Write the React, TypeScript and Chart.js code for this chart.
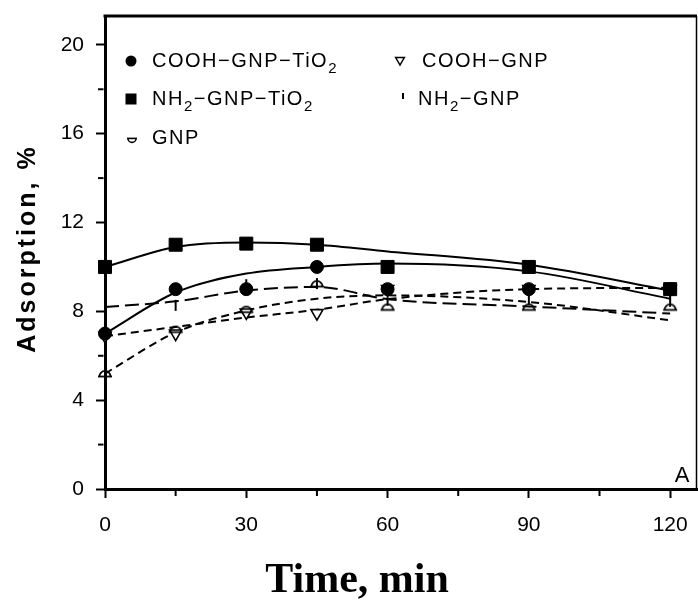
import React, { useEffect, useRef } from "react";
import { Chart, registerables } from "chart.js";

Chart.register(...registerables);

// ---------- data ----------
const times = [0, 15, 30, 45, 60, 90, 120];
const xTickValues = [0, 30, 60, 90, 120];
const xMinorTicks = [15, 45, 75, 105];
const yTickValues = [0, 4, 8, 12, 16, 20];
const yMinorTicks = [2, 6, 10, 14, 18];

// measured points
const coohGnpTio2 = [7.0, 9.0, 9.0, 10.0, 9.0, 9.0, 9.0];
const nh2GnpTio2 = [10.0, 11.0, 11.05, 11.0, 10.0, 10.0, 9.0];
const coohGnp = [6.9, 7.0, 7.95, 7.92, 9.0, 9.0, 9.0];
const nh2Gnp = [8.25, 8.27, 9.2, 9.25, 8.5, 8.55, 8.45];
const gnp = [5.2, 7.2, 8.1, 9.25, 8.2, 8.2, 8.2];

// fitted curves
const fitCoohGnpTio2 = [7.0, 8.85, 9.7, 10.0, 10.15, 9.8, 8.57];
const fitNh2GnpTio2 = [10.0, 10.9, 11.1, 11.0, 10.7, 10.1, 8.94];
const fitCoohGnp = [6.88, 7.3, 7.72, 8.07, 8.55, 9.0, 9.06];
const fitNh2Gnp = [8.2, 8.45, 8.94, 9.1, 8.55, 8.22, 7.9];
const fitGnp = [5.2, 7.05, 8.04, 8.57, 8.72, 8.42, 7.6];

const X_MAX = 125.7;
const Y_MAX = 21.3;

const SANS = "'Liberation Sans', Arial, Helvetica, sans-serif";
const SERIF = "'Liberation Serif', 'Times New Roman', serif";

const pts = (vals: number[]) => times.map((t, i) => ({ x: t, y: vals[i] }));

function makeDome(): HTMLCanvasElement {
  const c = document.createElement("canvas");
  c.width = 16;
  c.height = 11;
  const g = c.getContext("2d")!;
  g.strokeStyle = "#000";
  g.lineWidth = 1.8;
  g.beginPath();
  g.arc(8, 8.5, 5.6, Math.PI, 2 * Math.PI);
  g.stroke();
  g.beginPath();
  g.moveTo(1, 8.5);
  g.lineTo(15, 8.5);
  g.stroke();
  return c;
}

// ---------- marker helpers for legend ----------
function mCircle(ctx: CanvasRenderingContext2D, x: number, y: number, r: number) {
  ctx.beginPath();
  ctx.arc(x, y, r, 0, Math.PI * 2);
  ctx.fillStyle = "#000";
  ctx.fill();
}
function mSquare(ctx: CanvasRenderingContext2D, x: number, y: number, s: number) {
  ctx.fillStyle = "#000";
  ctx.fillRect(x - s / 2, y - s / 2, s, s);
}
function mTriDown(ctx: CanvasRenderingContext2D, x: number, y: number, r: number) {
  ctx.beginPath();
  ctx.moveTo(x - r * 0.866, y - r * 0.5);
  ctx.lineTo(x + r * 0.866, y - r * 0.5);
  ctx.lineTo(x, y + r);
  ctx.closePath();
  ctx.fillStyle = "#fff";
  ctx.fill();
  ctx.strokeStyle = "#000";
  ctx.lineWidth = 1.5;
  ctx.stroke();
}
function mTick(ctx: CanvasRenderingContext2D, x: number, y: number, h: number) {
  ctx.beginPath();
  ctx.moveTo(x, y - h / 2);
  ctx.lineTo(x, y + h / 2);
  ctx.strokeStyle = "#000";
  ctx.lineWidth = 2;
  ctx.stroke();
}
function mBowl(ctx: CanvasRenderingContext2D, x: number, y: number, r: number) {
  ctx.strokeStyle = "#000";
  ctx.lineWidth = 1.6;
  ctx.beginPath();
  ctx.arc(x, y - r * 0.4, r, 0, Math.PI);
  ctx.stroke();
  ctx.beginPath();
  ctx.moveTo(x - r - 1, y - r * 0.4);
  ctx.lineTo(x + r + 1, y - r * 0.4);
  ctx.stroke();
}

function subText(
  ctx: CanvasRenderingContext2D,
  parts: [string, boolean][],
  x: number,
  y: number
) {
  let cx = x;
  for (const [t, sub] of parts) {
    ctx.font = sub ? `15px ${SANS}` : `20px ${SANS}`;
    const dy = sub ? 6 : 0;
    ctx.fillText(t, cx, y + dy);
    cx += ctx.measureText(t).width;
  }
}

const decorPlugin = {
  id: "decor",
  afterDraw(chart: any) {
    const ctx: CanvasRenderingContext2D = chart.ctx;
    const a = chart.chartArea;
    const xs = chart.scales.x;
    const ys = chart.scales.y;
    ctx.save();
    // top and right frame
    ctx.strokeStyle = "#000";
    ctx.lineWidth = 3;
    ctx.beginPath();
    ctx.moveTo(a.left - 1.5, a.top);
    ctx.lineTo(a.right, a.top);
    ctx.stroke();
    ctx.lineWidth = 1.5;
    ctx.beginPath();
    ctx.moveTo(a.right - 0.5, a.top);
    ctx.lineTo(a.right - 0.5, a.bottom);
    ctx.stroke();
    // minor ticks
    ctx.lineWidth = 2;
    for (const v of xMinorTicks) {
      const px = xs.getPixelForValue(v);
      ctx.beginPath();
      ctx.moveTo(px, a.bottom + 1.5);
      ctx.lineTo(px, a.bottom + 7);
      ctx.stroke();
    }
    for (const v of yMinorTicks) {
      const py = ys.getPixelForValue(v);
      ctx.beginPath();
      ctx.moveTo(a.left - 1.5, py);
      ctx.lineTo(a.left - 7, py);
      ctx.stroke();
    }

    // legend
    ctx.fillStyle = "#000";
    ctx.textBaseline = "alphabetic";
    ctx.textAlign = "left";
    (ctx as any).letterSpacing = "1.5px";
    const r1 = a.top + 51;
    const r2 = a.top + 89;
    const r3 = a.top + 128;
    const c1m = a.left + 26;
    const c1t = a.left + 47;
    const c2m = a.left + 296;
    const c2t = a.left + 315;
    mCircle(ctx, c1m, r1 - 6, 5.5);
    ctx.fillStyle = "#000";
    subText(ctx, [["COOH\u2212GNP\u2212TiO", false], ["2", true]], c1t, r1);
    mSquare(ctx, c1m, r2 - 6, 11);
    ctx.fillStyle = "#000";
    subText(ctx, [["NH", false], ["2", true], ["\u2212GNP\u2212TiO", false], ["2", true]], c1t, r2);
    mBowl(ctx, c1m + 1, r3 - 4, 4);
    ctx.fillStyle = "#000";
    subText(ctx, [["GNP", false]], c1t, r3);
    mTriDown(ctx, c2m - 1, r1 - 7, 5);
    ctx.fillStyle = "#000";
    subText(ctx, [["COOH\u2212GNP", false]], c2t + 2, r1);
    mTick(ctx, c2m + 2, r2 - 9, 6);
    ctx.fillStyle = "#000";
    subText(ctx, [["NH", false], ["2", true], ["\u2212GNP", false]], c2t - 2, r2);

    // panel letter
    ctx.font = `22px ${SANS}`;
    ctx.textAlign = "center";
    (ctx as any).letterSpacing = "0px";
    ctx.fillText("A", a.right - 15, a.bottom - 7);

    // y title
    ctx.save();
    ctx.translate(35, (a.top + a.bottom) / 2 - 4);
    ctx.rotate(-Math.PI / 2);
    ctx.font = `bold 25px ${SANS}`;
    (ctx as any).letterSpacing = "3px";
    ctx.textAlign = "center";
    ctx.textBaseline = "alphabetic";
    ctx.fillText("Adsorption, %", 0, 0);
    ctx.restore();

    // x title
    (ctx as any).letterSpacing = "0px";
    ctx.font = `bold 42px ${SERIF}`;
    ctx.textAlign = "center";
    ctx.textBaseline = "alphabetic";
    ctx.fillText("Time, min", 357, 592);
    ctx.restore();
  },
};

export default function App() {
  const ref = useRef<HTMLCanvasElement | null>(null);
  useEffect(() => {
    if (!ref.current) return;
    const dome = makeDome();
    const lineDs = (label: string, vals: number[], dash: number[]) => ({
      type: "line" as const,
      label,
      data: pts(vals),
      borderColor: "#000",
      borderWidth: 2,
      borderDash: dash,
      pointRadius: 0,
      fill: false,
      cubicInterpolationMode: "monotone" as const,
      order: 10,
    });
    const ptDs = (label: string, vals: number[], extra: any, order: number) => ({
      type: "scatter" as const,
      label,
      data: pts(vals),
      showLine: false,
      clip: false,
      order,
      ...extra,
    });
    const chart = new Chart(ref.current, {
      type: "scatter",
      data: {
        datasets: [
          lineDs("fit NH2-GNP-TiO2", fitNh2GnpTio2, []),
          lineDs("fit COOH-GNP-TiO2", fitCoohGnpTio2, []),
          lineDs("fit NH2-GNP", fitNh2Gnp, [14, 6]),
          lineDs("fit COOH-GNP", fitCoohGnp, [8, 5]),
          lineDs("fit GNP", fitGnp, [8, 5]),
          ptDs(
            "COOH-GNP",
            coohGnp,
            {
              pointStyle: "triangle",
              rotation: 180,
              pointRadius: 7,
              backgroundColor: "#fff",
              borderColor: "#000",
              borderWidth: 1.6,
            },
            6
          ),
          ptDs(
            "GNP",
            gnp,
            { pointStyle: dome, pointRadius: 6, backgroundColor: "#000", borderColor: "#000" },
            5
          ),
          ptDs(
            "NH2-GNP",
            nh2Gnp,
            {
              pointStyle: "line",
              rotation: 90,
              pointRadius: 5.5,
              borderColor: "#000",
              borderWidth: 2,
            },
            4
          ),
          ptDs(
            "COOH-GNP-TiO2",
            coohGnpTio2,
            {
              pointStyle: "circle",
              pointRadius: 6.5,
              backgroundColor: "#000",
              borderColor: "#000",
              borderWidth: 1,
            },
            3
          ),
          ptDs(
            "NH2-GNP-TiO2",
            nh2GnpTio2,
            {
              pointStyle: "rect",
              pointRadius: 9.2,
              backgroundColor: "#000",
              borderColor: "#000",
              borderWidth: 1,
            },
            2
          ),
        ],
      },
      options: {
        responsive: false,
        animation: false,
        events: [],
        layout: { autoPadding: false, padding: { left: 0, top: 16, right: 1, bottom: 0 } },
        plugins: {
          legend: { display: false },
          tooltip: { enabled: false },
          title: { display: false },
        },
        scales: {
          x: {
            type: "linear",
            min: 0,
            max: X_MAX,
            afterFit: (s: any) => {
              s.height = 112;
              s.paddingLeft = 0;
              s.paddingRight = 0;
            },
            afterBuildTicks: (s: any) => {
              s.ticks = xTickValues.map((v) => ({ value: v }));
            },
            grid: {
              drawOnChartArea: false,
              drawTicks: true,
              tickLength: 9,
              tickWidth: 2,
              tickColor: "#000",
            },
            border: { display: true, color: "#000", width: 3 },
            ticks: {
              font: { family: SANS, size: 21 },
              color: "#000",
              padding: 15,
              maxRotation: 0,
              autoSkip: false,
            },
          },
          y: {
            type: "linear",
            min: 0,
            max: Y_MAX,
            afterFit: (s: any) => {
              s.width = 105;
              s.paddingTop = 0;
              s.paddingBottom = 0;
            },
            afterBuildTicks: (s: any) => {
              s.ticks = yTickValues.map((v) => ({ value: v }));
            },
            grid: {
              drawOnChartArea: false,
              drawTicks: true,
              tickLength: 9,
              tickWidth: 2,
              tickColor: "#000",
            },
            border: { display: true, color: "#000", width: 3 },
            ticks: {
              font: { family: SANS, size: 21 },
              color: "#000",
              padding: 12,
              autoSkip: false,
            },
          },
        },
      },
      plugins: [decorPlugin],
    } as any);
    return () => chart.destroy();
  }, []);

  return (
    <div
      style={{
        position: "fixed",
        left: 0,
        top: 0,
        width: 698,
        height: 601,
        background: "#fff",
      }}
    >
      <canvas ref={ref} width={698} height={601} style={{ display: "block" }} />
    </div>
  );
}
